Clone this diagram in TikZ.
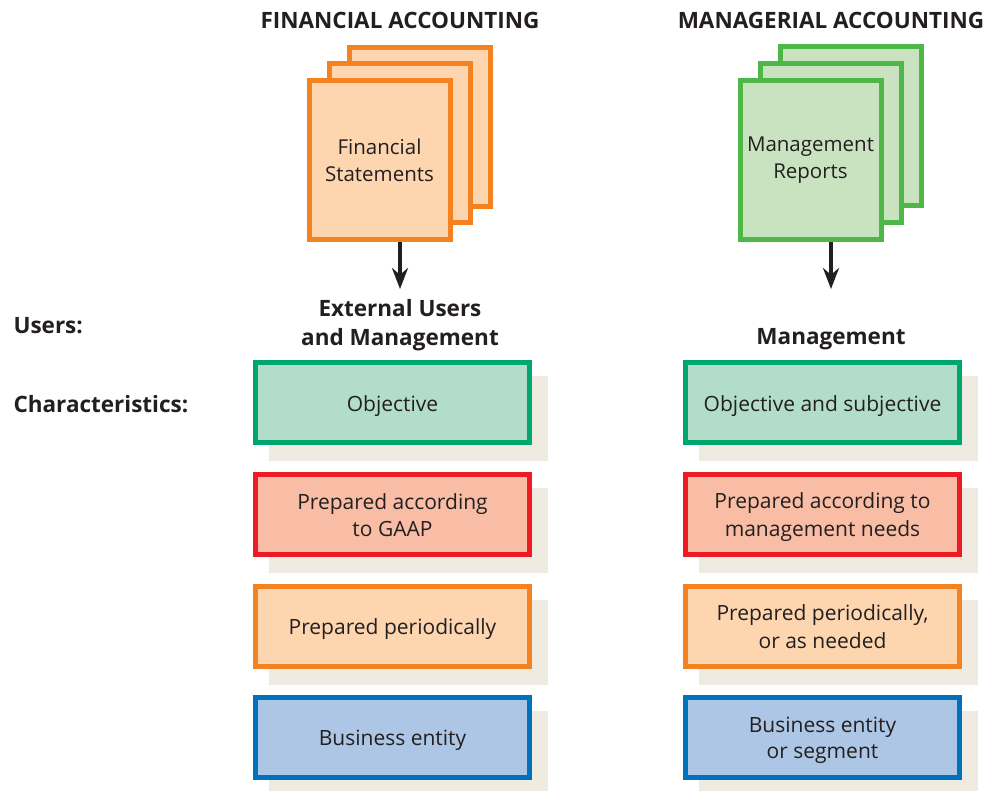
\documentclass[tikz,border=0pt]{standalone}
\usepackage{fontspec}
\setmainfont{Open Sans}
\usetikzlibrary{arrows.meta}
\definecolor{txt}{HTML}{231F20}
\definecolor{orS}{HTML}{F58220}
\definecolor{orF}{HTML}{FDD5AF}
\definecolor{grS}{HTML}{4DB848}
\definecolor{grF}{HTML}{C9E3C0}
\definecolor{tlS}{HTML}{00A66F}
\definecolor{tlF}{HTML}{B2DDCB}
\definecolor{rdS}{HTML}{ED1C24}
\definecolor{rdF}{HTML}{F9BDA6}
\definecolor{blS}{HTML}{0072BC}
\definecolor{blF}{HTML}{ADC6E5}
\definecolor{shd}{HTML}{F0EBE1}
\tikzset{
  sheet/.style={draw=#1S,fill=#1F,line width=5pt,minimum width=141pt,minimum height=159pt,inner sep=0pt,text=txt,align=center,font=\fontsize{20.5}{27}\selectfont},
  charbox/.style={draw=#1S,fill=#1F,line width=5pt,minimum width=274pt,minimum height=80pt,inner sep=0pt,text=txt,align=center,font=\fontsize{21}{27}\selectfont},
  shadowbox/.style={fill=shd,minimum width=279pt,minimum height=85pt,inner sep=0pt},
  title/.style={text=txt,font=\fontsize{22.5}{29}\selectfont\bfseries,align=center},
  flow/.style={line width=4pt,draw=txt,-{Stealth[length=21pt,width=16pt]}}
}
\begin{document}
\begin{tikzpicture}[x=1pt,y=-1pt]
\useasboundingbox (0,0) rectangle (1001,790);
% titles
\node[title] (tfin) at (400,20) {FINANCIAL ACCOUNTING};
\node[title] (tman) at (831,20) {MANAGERIAL ACCOUNTING};
% left documents
\node[sheet=or] (fs3) at (420,127) {};
\node[sheet=or] (fs2) at (400,142.5) {};
\node[sheet=or] (fs1) at (379.5,160) {Financial\\Statements};
% right documents
\node[sheet=gr] (mr3) at (851,126) {};
\node[sheet=gr] (mr2) at (831,143) {};
\node[sheet=gr] (mr1) at (810.5,160) {Management\\Reports};
% users
\node[title,anchor=west] (lusers) at (10,326) {Users:};
\node[title,anchor=west] (lchar) at (10,404) {Characteristics:};
\node[title] (uext) at (400,325) {External Users\\and Management};
\node[title] (umgt) at (831,339) {Management};
\coordinate (fend) at (400,289);
\coordinate (mend) at (831,289);
\draw[flow] (fs1.south -| fend) -- (fend);
\draw[flow] (mr1.south -| mend) -- (mend);
% shadows
\foreach \y/\n in {402.5/a,514/b,626/c,737/d}{
  \node[shadowbox] (ls\n) at (408.5,\y+16) {};
  \node[shadowbox] (rs\n) at (838.5,\y+16) {};
}
% characteristic boxes
\tikzset{every node/.append style={text depth=0pt}}
\node[charbox=tl] (l1) at (392.5,402.5) {\raisebox{-2pt}{Objective}};
\node[charbox=rd] (l2) at (392.5,514) {\raisebox{-2pt}{\shortstack{Prepared according\\[4pt]to GAAP}}};
\node[charbox=or] (l3) at (392.5,626) {\raisebox{-2pt}{Prepared periodically}};
\node[charbox=bl] (l4) at (392.5,737) {\raisebox{-2pt}{Business entity}};
\node[charbox=tl] (r1) at (822.5,402.5) {\raisebox{-2pt}{Objective and subjective}};
\node[charbox=rd] (r2) at (822.5,514) {\raisebox{-2pt}{\shortstack{Prepared according to\\[4pt]management needs}}};
\node[charbox=or] (r3) at (822.5,626) {\raisebox{-2pt}{\shortstack{Prepared periodically,\\[4pt]or as needed}}};
\node[charbox=bl] (r4) at (822.5,737) {\raisebox{-2pt}{\shortstack{Business entity\\[4pt]or segment}}};
\end{tikzpicture}
\end{document}
